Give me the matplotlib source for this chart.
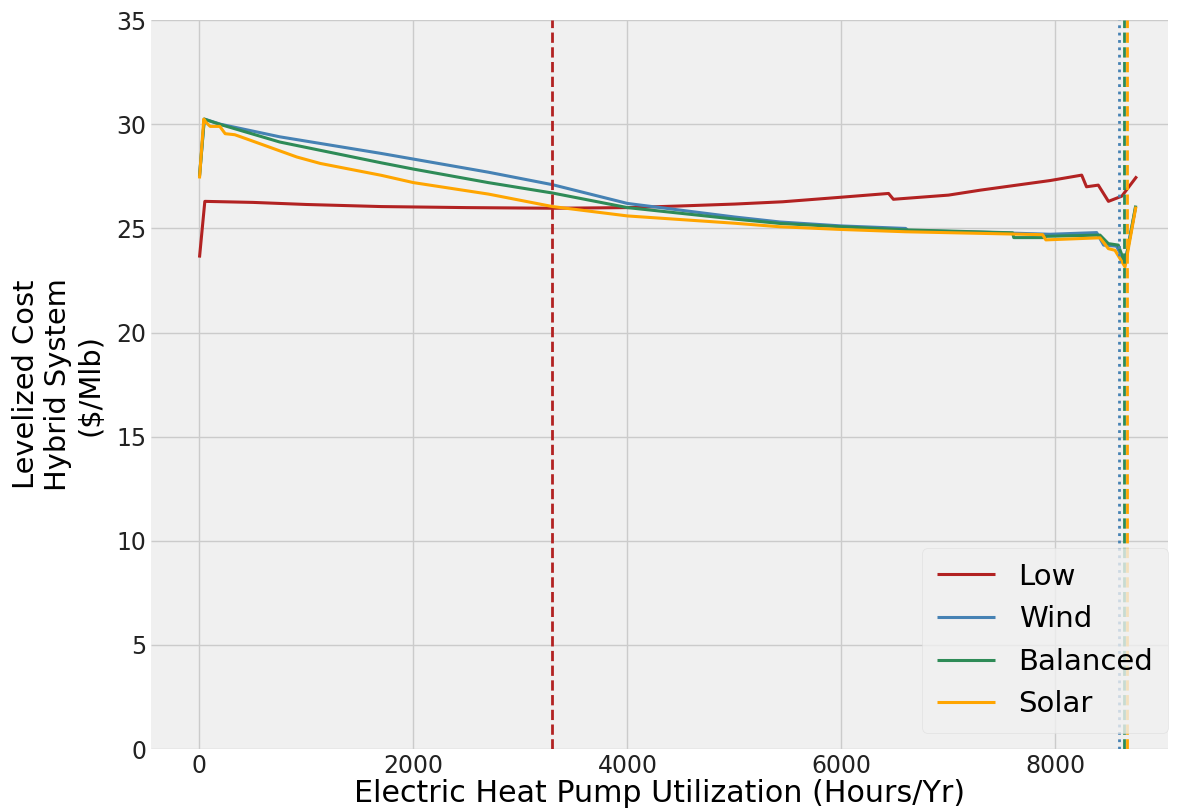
import matplotlib
matplotlib.use("Agg")
import matplotlib.pyplot as plt

# hours per year the heat pump runs vs levelized cost of the hybrid system
low_x = [0, 50, 500, 1000, 1700, 2500, 3300, 4000, 4500, 5000, 5450, 6000, 6440, 6485,
         7000, 7300, 7950, 8245, 8290, 8400, 8495, 8620, 8760]
low_y = [23.6, 26.3, 26.25, 26.15, 26.05, 26.0, 25.97, 26.0, 26.08, 26.17, 26.28, 26.5, 26.68, 26.4,
         26.6, 26.84, 27.3, 27.56, 27.0, 27.08, 26.3, 26.55, 27.5]

wind_x = [0, 45, 200, 750, 1700, 2000, 2700, 3300, 4000, 5000, 5425, 6000, 6600, 6620,
          7300, 7950, 8385, 8450, 8570, 8650, 8750]
wind_y = [27.5, 30.25, 30.0, 29.4, 28.6, 28.33, 27.7, 27.1, 26.2, 25.55, 25.31, 25.12, 25.0, 24.9,
          24.82, 24.72, 24.8, 24.2, 24.15, 23.35, 26.05]

bal_x = [0, 45, 190, 750, 1700, 2000, 2700, 3300, 4000, 5000, 5425, 6000, 6600, 7600, 7610,
         7900, 7905, 8416, 8494, 8587, 8650, 8750]
bal_y = [27.5, 30.25, 30.0, 29.15, 28.15, 27.85, 27.2, 26.7, 26.0, 25.45, 25.24, 25.08, 24.93, 24.79, 24.56,
         24.56, 24.62, 24.68, 24.27, 24.2, 23.3, 26.1]

solar_x = [0, 40, 60, 100, 190, 240, 330, 440, 910, 1130, 1700, 2000, 2700, 3300, 4000, 5000,
           5425, 6000, 6600, 7880, 7910, 8416, 8494, 8556, 8650, 8752]
solar_y = [27.4, 30.25, 30.1, 29.9, 29.9, 29.55, 29.5, 29.3, 28.43, 28.12, 27.55, 27.2, 26.65, 26.05, 25.6, 25.25,
           25.08, 24.95, 24.84, 24.7, 24.45, 24.55, 24.03, 23.95, 23.15, 26.05]

# optimal utilization markers
low_opt = 3297
wind_opt = 8596
bal_opt = 8643
solar_opt = 8665

plt.style.use("fivethirtyeight")

fig = plt.figure(figsize=(11.77, 8.08), dpi=100, facecolor="white")
ax = fig.add_axes([0.1283, 0.073, 0.864, 0.902])
ax.set_facecolor("#f0f0f0")

ax.plot(low_x, low_y, color="firebrick", lw=2.2, label="Low")
ax.plot(wind_x, wind_y, color="steelblue", lw=2.2, label="Wind")
ax.plot(bal_x, bal_y, color="seagreen", lw=2.2, label="Balanced")
ax.plot(solar_x, solar_y, color="orange", lw=2.2, label="Solar")

ax.axvline(low_opt, color="firebrick", ls="--", lw=2)
ax.axvline(wind_opt, color="steelblue", ls=":", lw=2)
ax.axvline(bal_opt, color="seagreen", ls="--", lw=2)
ax.axvline(solar_opt, color="orange", ls="--", lw=2)

ax.set_xlim(-453, 9051)
ax.set_ylim(0, 35)
ax.set_xticks([0, 2000, 4000, 6000, 8000])
ax.set_yticks(range(0, 36, 5))
ax.tick_params(labelsize=17, colors="#222222")
for s in ax.spines.values():
    s.set_visible(False)

ax.set_xlabel("Electric Heat Pump Utilization (Hours/Yr)", fontsize=21.7, labelpad=1)
ax.set_ylabel("Levelized Cost\nHybrid System\n($/Mlb)", fontsize=20.8, labelpad=8)

leg = ax.legend(loc="lower right", bbox_to_anchor=(1.0, 0.022), borderaxespad=0,
                fontsize=21, labelspacing=0.5, borderpad=0.5,
                facecolor="#f0f0f0", edgecolor="#dddddd")

fig.savefig("out.png", dpi=100, facecolor="white")
